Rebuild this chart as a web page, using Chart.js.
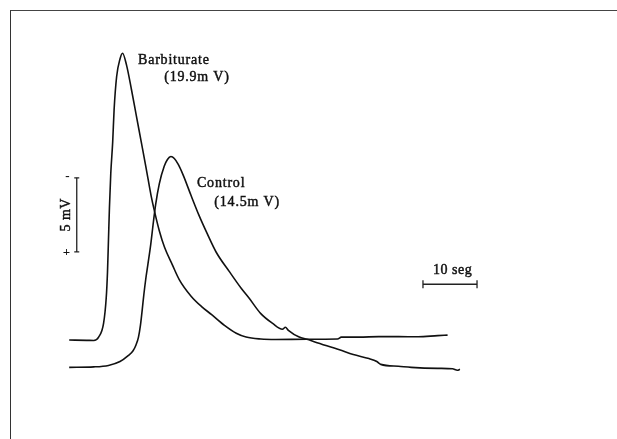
<!DOCTYPE html>
<html>
<head>
<meta charset="utf-8">
<script src="https://cdn.jsdelivr.net/npm/chart.js@4/dist/chart.umd.min.js"></script>
<style>
  html, body { margin: 0; padding: 0; background: #fff; }
  #wrap { position: relative; width: 617px; height: 439px; }
  #frame { position: absolute; left: 10px; top: 10px; right: 0; bottom: 0;
           border-top: 1.5px solid #444; border-left: 1.5px solid #333; pointer-events: none; }
  canvas { position: absolute; left: 0; top: 0; }
</style>
</head>
<body>
<div id="wrap">
<canvas id="c" width="617" height="439"></canvas>
<div id="frame"></div>
</div>
<script>
// time in seconds, potential in mV (traces offset vertically as in the figure)
const barbTime = [0, 3.27, 4.55, 5.45, 6.36, 6.85, 7.09, 7.27, 7.45, 7.69, 8.05, 8.31, 8.78, 9.40, 9.87,
  10.60, 11.51, 12.42, 13.33, 14.24, 15.15, 15.82, 16.67, 17.64, 19.09, 20.36, 22.55, 24.55, 26.36, 28.73,
  30.91, 32.73, 35.45, 38.18, 44.00, 49.64, 50.36, 53.64, 57.27, 60.91, 64.55, 68.18, 70.00];
const barbMV = [1.84, 1.82, 1.81, 2.04, 2.96, 4.67, 6.45, 8.62, 10.79, 13.03, 15.20, 17.37, 19.61, 20.79, 21.18,
  20.39, 18.75, 16.97, 15.20, 13.42, 11.58, 10.46, 9.21, 8.09, 6.91, 5.92, 4.80, 4.08, 3.55, 2.83,
  2.30, 2.04, 1.91, 1.88, 1.89, 1.91, 2.04, 2.04, 2.07, 2.07, 2.06, 2.14, 2.17];

const ctrlTime = [0, 4.55, 7.27, 9.40, 10.91, 11.82, 12.36, 12.82, 13.18, 13.51, 13.82, 14.18, 14.55, 15.09,
  15.58, 16.00, 16.67, 17.58, 18.18, 18.82, 19.45, 20.18, 21.09, 22.55, 24.00, 25.45, 27.20, 29.64,
  31.82, 33.27, 35.45, 37.64, 39.45, 40.00, 40.55, 42.55, 44.00, 45.45, 50.00, 52.55, 55.45, 56.91,
  57.64, 60.91, 63.27, 68.18, 70.91, 71.82, 72.29];
const ctrlMV = [0, 0.03, 0.13, 0.39, 0.79, 1.12, 1.51, 2.04, 2.83, 3.88, 4.93, 5.99, 6.91, 8.29,
  9.80, 10.99, 12.37, 13.55, 14.01, 14.21, 14.08, 13.68, 12.96, 11.58, 10.26, 9.08, 7.76, 6.45,
  5.33, 4.67, 3.62, 2.96, 2.57, 2.70, 2.50, 2.04, 1.89, 1.71, 1.18, 0.86, 0.59, 0.39,
  0.20, 0.07, 0, -0.07, -0.10, -0.20, -0.13];

// scale bars
const mvBarTime = [1.40, 1.40];
const mvBarMV = [7.78, 12.78];
const secBarTime = [65.45, 75.45];
const secBarMV = [5.61, 5.61];

const labels = [
  { text: 'Barbiturate', t: 12.73, v: 20.46 },
  { text: '(19.9m V)', t: 17.58, v: 19.31 },
  { text: 'Control', t: 23.64, v: 12.14 },
  { text: '(14.5m V)', t: 26.85, v: 10.89 }
];

function pts(xs, ys) { return xs.map((x, i) => ({ x: x, y: ys[i] })); }

function heavyText(ctx, s, x, y) {
  ctx.fillText(s, x, y);
  ctx.strokeText(s, x, y);
}

const textPlugin = {
  id: 'texts',
  afterDatasetsDraw(chart) {
    const ctx = chart.ctx, xs = chart.scales.x, ys = chart.scales.y;
    ctx.save();
    ctx.fillStyle = '#111';
    ctx.strokeStyle = '#111';
    ctx.lineWidth = 0.45;
    ctx.textBaseline = 'alphabetic';
    ctx.textAlign = 'left';
    ctx.font = '14px "Liberation Serif", "Times New Roman", serif';
    ctx.letterSpacing = '0.8px';
    labels.forEach(l => heavyText(ctx, l.text, xs.getPixelForValue(l.t), ys.getPixelForValue(l.v)));
    ctx.textAlign = 'center';
    ctx.letterSpacing = '0.5px';
    ctx.font = '14px "Liberation Serif", serif';
    heavyText(ctx, '10 seg', xs.getPixelForValue((secBarTime[0] + secBarTime[1]) / 2 + 0.5), ys.getPixelForValue(6.32));
    // rotated 5 mV
    const cx = xs.getPixelForValue(-0.6), cy = ys.getPixelForValue((mvBarMV[0] + mvBarMV[1]) / 2);
    ctx.translate(cx, cy);
    ctx.rotate(-Math.PI / 2);
    ctx.textBaseline = 'middle';
    heavyText(ctx, '5 mV', 0, 0);
    ctx.restore();
    ctx.save();
    ctx.fillStyle = '#111';
    ctx.font = 'bold 13px "Liberation Serif", serif';
    ctx.textAlign = 'center';
    ctx.textBaseline = 'middle';
    ctx.fillText('+', xs.getPixelForValue(-0.49), ys.getPixelForValue(mvBarMV[0] - 0.08));
    ctx.fillText('-', xs.getPixelForValue(-0.31), ys.getPixelForValue(mvBarMV[1] + 0.1));
    ctx.restore();
  }
};

new Chart(document.getElementById('c'), {
  type: 'scatter',
  data: {
    datasets: [
      { label: 'Barbiturate', data: pts(barbTime, barbMV), showLine: true, borderColor: '#111',
        borderWidth: 1.6, pointRadius: 0, cubicInterpolationMode: 'monotone' },
      { label: 'Control', data: pts(ctrlTime, ctrlMV), showLine: true, borderColor: '#111',
        borderWidth: 1.6, pointRadius: 0, cubicInterpolationMode: 'monotone' },
      { label: '5 mV', data: pts(mvBarTime, mvBarMV), showLine: true, borderColor: '#222',
        borderWidth: 1.3, pointStyle: 'line', pointRadius: 2.5, pointBorderWidth: 1.3, pointBorderColor: '#222' },
      { label: '10 seg', data: pts(secBarTime, secBarMV), showLine: true, borderColor: '#222',
        borderWidth: 1.5, pointStyle: 'line', pointRotation: 90, pointRadius: 4, pointBorderWidth: 1.3, pointBorderColor: '#222' }
    ]
  },
  options: {
    responsive: false,
    animation: false,
    events: [],
    layout: { padding: 0 },
    plugins: { legend: { display: false }, tooltip: { enabled: false } },
    scales: {
      x: { type: 'linear', display: false, min: -11.818, max: 100.364 },
      y: { type: 'linear', display: false, min: -4.474, max: 24.408 }
    }
  },
  plugins: [textPlugin]
});
</script>
</body>
</html>
